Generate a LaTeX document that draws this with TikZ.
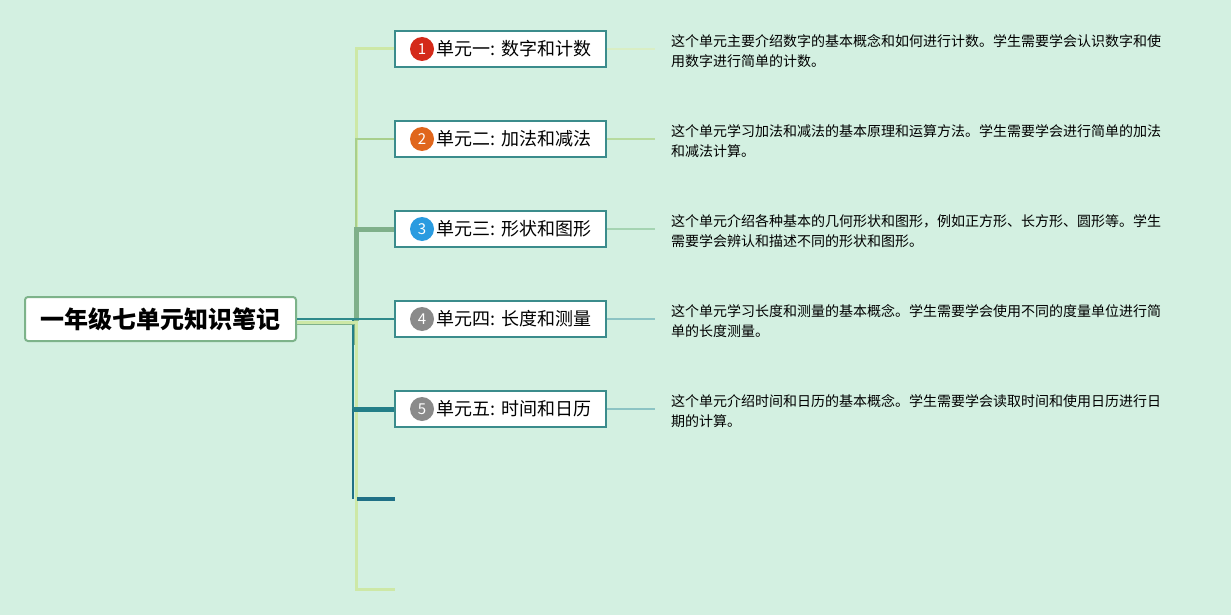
\documentclass[tikz,border=0pt]{standalone}
\usepackage{fontspec}
\setmainfont{Noto Sans CJK SC}
\definecolor{bg}{HTML}{D3F0E1}
\definecolor{boxc}{HTML}{3B8C8C}
\definecolor{rootc}{HTML}{7DB38A}
\definecolor{cA}{HTML}{CDE8A6}
\definecolor{cB}{HTML}{A8CF8C}
\definecolor{cC}{HTML}{7FB08A}
\definecolor{cD}{HTML}{2E8A8A}
\definecolor{cE}{HTML}{237F88}
\definecolor{cF}{HTML}{1F7086}
\definecolor{dA}{HTML}{D9EEC4}
\definecolor{dB}{HTML}{B7DB9F}
\definecolor{dC}{HTML}{A5D4B2}
\definecolor{dD}{HTML}{8CC4C4}
\definecolor{icA}{HTML}{D42A1A}
\definecolor{icB}{HTML}{E0661C}
\definecolor{icC}{HTML}{2A9BE0}
\definecolor{icD}{HTML}{8A8A8A}
\begin{document}
\begin{tikzpicture}[x=1pt,y=-1pt,
  rootbox/.style={draw=rootc,line width=2pt,fill=white,rounded corners=3pt,minimum width=271pt,minimum height=44pt,inner sep=0pt,font=\fontsize{24}{24}\selectfont\bfseries},
  unitbox/.style={draw=boxc,line width=2pt,fill=white,minimum width=211pt,minimum height=36pt,inner sep=0pt},
  icon/.style={circle,minimum size=24pt,inner sep=0pt,text=white,font=\fontsize{15}{15}\selectfont},
  utext/.style={anchor=west,inner sep=0pt,font=\fontsize{18}{18}\selectfont},
  desc/.style={anchor=west,inner sep=0pt,align=left,font=\fontsize{14}{20}\selectfont},
  conn/.style={line cap=butt,line join=miter}
]
\fill[bg] (0,0) rectangle (1231,615);
\useasboundingbox (0,0) rectangle (1231,615);

% root
\node[rootbox] (root) at (160.5,319) {一年级七单元知识笔记};

% unit boxes
\node[unitbox] (u1) at (500.5,49) {};
\node[unitbox] (u2) at (500.5,139) {};
\node[unitbox] (u3) at (500.5,229) {};
\node[unitbox] (u4) at (500.5,319) {};
\node[unitbox] (u5) at (500.5,409) {};

\coordinate (e6) at (395,499);
\coordinate (e7) at (395,589);

% connectors
\draw[conn,cA,line width=3pt] ([yshift=-3.5pt]root.east) -- (356,322.5) -- (356,49) -- (u1.west);
\draw[conn,cB,line width=2.5pt] ([yshift=-3.5pt]root.east) -- (356,322.5) -- (356,139) -- (u2.west);
\draw[conn,cC,line width=5pt] (356,321) -- (356,229) -- (u3.west);
\draw[conn,cE,line width=2pt] (root.east) -- (353,319) -- (353,409);
\draw[conn,cF,line width=2pt] (353,409) -- (353,499);
\draw[conn,cA,line width=3pt] ([yshift=-3.5pt]root.east) -- (356,322.5) -- (356,589) -- (e7);
\draw[conn,cE,line width=5pt] (353,409) -- (u5.west);
\draw[conn,cF,line width=3.5pt] (357,499) -- (e6);
\draw[conn,cC,line width=0.8pt] ([yshift=-5.3pt]root.east) -- (354.3,324.3) -- (354.3,345);
\draw[conn,cD,line width=2pt] (root.east) -- (u4.west);

% icons and titles
\node[icon,fill=icA] (i1) at (422,49) {1};
\node[utext] (t1) at (436.5,49) {单元一: 数字和计数};
\node[icon,fill=icB] (i2) at (422,139) {2};
\node[utext] (t2) at (436.5,139) {单元二: 加法和减法};
\node[icon,fill=icC] (i3) at (422,229) {3};
\node[utext] (t3) at (436.5,229) {单元三: 形状和图形};
\node[icon,fill=icD] (i4) at (422,319) {4};
\node[utext] (t4) at (436.5,319) {单元四: 长度和测量};
\node[icon,fill=icD] (i5) at (422,409) {5};
\node[utext] (t5) at (436.5,409) {单元五: 时间和日历};

% description leaders
\coordinate (l1) at (655,49);
\coordinate (l2) at (655,139);
\coordinate (l3) at (655,229);
\coordinate (l4) at (655,319);
\coordinate (l5) at (655,409);
\draw[dA,line width=1.5pt] (u1.east) -- (l1);
\draw[dB,line width=1.5pt] (u2.east) -- (l2);
\draw[dC,line width=1.5pt] (u3.east) -- (l3);
\draw[dD,line width=1.5pt] (u4.east) -- (l4);
\draw[dD,line width=1.5pt] (u5.east) -- (l5);

% descriptions
\node[desc] (n1) at (671,51) {这个单元主要介绍数字的基本概念和如何进行计数。学生需要学会认识数字和使\\用数字进行简单的计数。};
\node[desc] (n2) at (671,141) {这个单元学习加法和减法的基本原理和运算方法。学生需要学会进行简单的加法\\和减法计算。};
\node[desc] (n3) at (671,231) {这个单元介绍各种基本的几何形状和图形，例如正方形、长方形、圆形等。学生\\需要学会辨认和描述不同的形状和图形。};
\node[desc] (n4) at (671,321) {这个单元学习长度和测量的基本概念。学生需要学会使用不同的度量单位进行简\\单的长度测量。};
\node[desc] (n5) at (671,411) {这个单元介绍时间和日历的基本概念。学生需要学会读取时间和使用日历进行日\\期的计算。};
\end{tikzpicture}
\end{document}
